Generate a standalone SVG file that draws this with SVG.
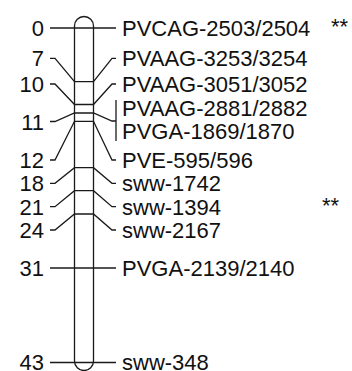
<svg xmlns="http://www.w3.org/2000/svg" width="352" height="371" viewBox="0 0 352 371">
<style>
.c{fill:none;stroke:#1a1a1a;stroke-width:1.3}
.t{font-family:"Liberation Sans",Arial,sans-serif;font-size:22px;fill:#111}
.n{text-anchor:end}
</style>
<rect width="352" height="371" fill="#fff"/>
<g id="chromosome">
<path class="c" d="M74.5,26 A9.5,9.5 0 0 1 93.5,26 L93.5,361 A9.5,9.5 0 0 1 74.5,361 Z"/>
</g>
<g id="connectors">
<path class="c" d="M50,28 H116"/>
<path class="c" d="M50,58.3 H55 L74.5,81.7 H93.5 L112,58.3 H116"/>
<path class="c" d="M50,84 H55 L74.5,104.5 H93.5 L112,84 H116"/>
<path class="c" d="M50,121.5 H55 L74.5,113 H93.5 L112,121 H116"/>
<path class="c" d="M116,100 V141"/>
<path class="c" d="M50,160 H55 L74.5,121.3 H93.5 L112,160 H116"/>
<path class="c" d="M50,183.3 H55 L74.5,167.7 H93.5 L112,183.3 H116"/>
<path class="c" d="M50,206.7 H55 L74.5,190.7 H93.5 L112,206.7 H116"/>
<path class="c" d="M50,230 H55 L74.5,214 H93.5 L112,230 H116"/>
<path class="c" d="M50,268 H116"/>
<path class="c" d="M50,362.5 H116"/>
</g>
<g id="m0"><text class="t n" x="44" y="36">0</text><text class="t" x="122" y="36">PVCAG-2503/2504</text><text class="t" x="331" y="34">**</text></g>
<g id="m7"><text class="t n" x="44" y="66.3">7</text><text class="t" x="122" y="66.3">PVAAG-3253/3254</text></g>
<g id="m10"><text class="t n" x="44" y="92">10</text><text class="t" x="122" y="92">PVAAG-3051/3052</text></g>
<g id="m11"><text class="t n" x="44" y="130">11</text><text class="t" x="122" y="116">PVAAG-2881/2882</text><text class="t" x="122" y="138.5">PVGA-1869/1870</text></g>
<g id="m12"><text class="t n" x="44" y="168">12</text><text class="t" x="122" y="168">PVE-595/596</text></g>
<g id="m18"><text class="t n" x="44" y="191.3">18</text><text class="t" x="122" y="191.3">sww-1742</text></g>
<g id="m21"><text class="t n" x="44" y="214.7">21</text><text class="t" x="122" y="214.7">sww-1394</text><text class="t" x="322" y="212.7">**</text></g>
<g id="m24"><text class="t n" x="44" y="238">24</text><text class="t" x="122" y="238">sww-2167</text></g>
<g id="m31"><text class="t n" x="44" y="276">31</text><text class="t" x="122" y="276">PVGA-2139/2140</text></g>
<g id="m43"><text class="t n" x="44" y="369.5">43</text><text class="t" x="122" y="369.5">sww-348</text></g>
</svg>
